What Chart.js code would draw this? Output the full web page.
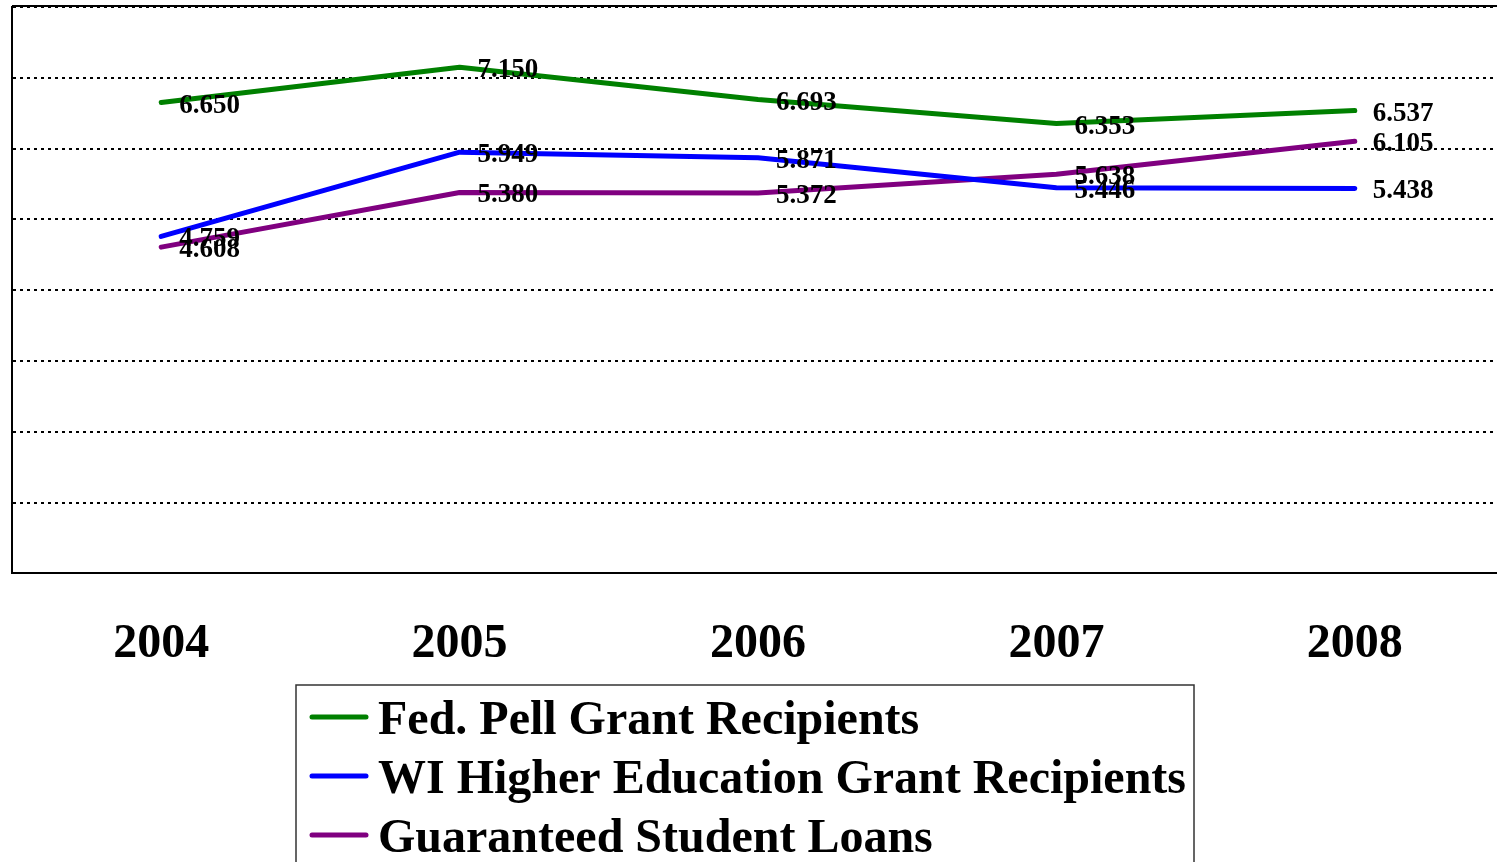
<!DOCTYPE html>
<html lang="en">
  <head>
    <meta charset="UTF-8" />
    <title>Student aid recipients</title>
    <script src="https://cdn.jsdelivr.net/npm/chart.js"></script>
    <style>
      html, body { margin: 0; padding: 0; background: #fff; overflow: hidden; }
      canvas { display: block; }
    </style>
  </head>
  <body>
    <canvas id="lineChart" width="1510" height="862"></canvas>

<script>
  // data
  const years = ["2004", "2005", "2006", "2007", "2008"];
  const pellGrant = [6.650, 7.150, 6.693, 6.353, 6.537];
  const wiGrant = [4.759, 5.949, 5.871, 5.446, 5.438];
  const studentLoans = [4.608, 5.380, 5.372, 5.638, 6.105];
  const seriesNames = [
    "Fed. Pell Grant Recipients",
    "WI Higher Education Grant Recipients",
    "Guaranteed Student Loans",
  ];
  const seriesColors = ["#008000", "#0000ff", "#800080"];

  const serif = "'Liberation Serif', 'Times New Roman', serif";

  // value labels to the right of every point
  const valueLabels = {
    id: "valueLabels",
    afterDatasetsDraw(chart) {
      const ctx = chart.ctx;
      ctx.save();
      ctx.font = "bold 27px " + serif;
      ctx.fillStyle = "#000";
      ctx.textAlign = "left";
      ctx.textBaseline = "middle";
      chart.data.datasets.forEach((ds, i) => {
        chart.getDatasetMeta(i).data.forEach((pt, j) => {
          ctx.fillText(ds.data[j].toFixed(3), pt.x + 18, pt.y + 3);
        });
      });
      ctx.restore();
    },
  };

  // solid top border + boxed legend under the axis
  const frameAndLegend = {
    id: "frameAndLegend",
    afterDraw(chart) {
      const ctx = chart.ctx;
      const a = chart.chartArea;
      ctx.save();
      ctx.strokeStyle = "#000";
      ctx.lineWidth = 2;
      ctx.beginPath();
      ctx.moveTo(a.left, a.top - 1);
      ctx.lineTo(a.right, a.top - 1);
      ctx.stroke();

      // legend box
      ctx.strokeStyle = "#333";
      ctx.lineWidth = 1.5;
      ctx.strokeRect(296, 685, 898, 200);

      ctx.font = "bold 48px " + serif;
      ctx.textBaseline = "middle";
      ctx.textAlign = "left";
      chart.data.datasets.forEach((ds, i) => {
        const y = 717 + i * 59;
        ctx.strokeStyle = ds.borderColor;
        ctx.lineWidth = 5;
        ctx.lineCap = "round";
        ctx.beginPath();
        ctx.moveTo(312, y);
        ctx.lineTo(366, y);
        ctx.stroke();
        ctx.fillStyle = "#000";
        ctx.fillText(ds.label, 378, y + 5);
      });
      ctx.restore();
    },
  };

  const dataLine = {
    labels: years,
    datasets: [pellGrant, wiGrant, studentLoans].map((vals, i) => ({
      label: seriesNames[i],
      data: vals,
      borderColor: seriesColors[i],
      backgroundColor: seriesColors[i],
      borderWidth: 5,
      borderCapStyle: "round",
      borderJoinStyle: "round",
      pointRadius: 0,
      tension: 0,
    })),
  };

  const lineChart = new Chart(document.getElementById("lineChart"), {
    type: "line",
    data: dataLine,
    options: {
      responsive: false,
      animation: false,
      layout: { padding: { left: 12, top: 7, right: 6, bottom: 147 } },
      plugins: {
        legend: { display: false },
        tooltip: { enabled: false },
      },
      scales: {
        x: {
          offset: true,
          grid: { display: false, drawTicks: false },
          border: { display: true, color: "#000", width: 2 },
          ticks: {
            color: "#000",
            padding: 42,
            font: { family: serif, size: 48, weight: "bold" },
          },
        },
        y: {
          min: 0,
          max: 8,
          ticks: { display: false, stepSize: 1 },
          grid: { color: "#000", lineWidth: 2, drawTicks: false },
          border: { display: true, color: "#000", width: 2, dash: [3, 4] },
        },
      },
    },
    plugins: [valueLabels, frameAndLegend],
  });
</script>
  </body>
</html>
